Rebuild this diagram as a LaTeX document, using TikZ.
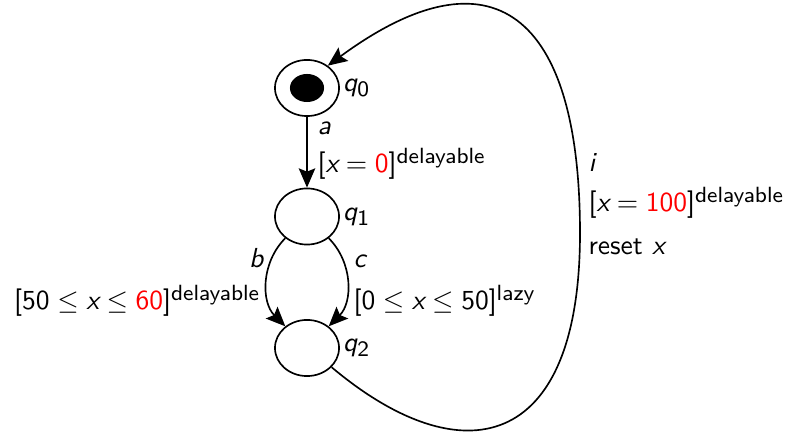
\documentclass[tikz,border=0pt]{standalone}
\usepackage{amsmath}
\renewcommand{\familydefault}{\sfdefault}
\usepackage[italic]{mathastext}
\usetikzlibrary{shapes.geometric,arrows.meta}
\tikzset{
  state/.style={draw, ellipse, line width=0.6pt, inner sep=0pt, minimum width=23.3pt, minimum height=20.4pt},
  trans/.style={line width=0.6pt, -{Stealth[length=7pt,width=6pt,inset=1.2pt]}},
  lbl/.style={inner sep=0pt},
}
\newcommand{\dlay}{^{\text{delayable}}}
\begin{document}
\begin{tikzpicture}[x=0.3636pt,y=0.3636pt]
\useasboundingbox (0,0) rectangle (789,433);
\node[state, label={[inner sep=1pt]right:$q_0$}] (q0) at (307,345) {};
\node[fill, ellipse, inner sep=0pt, minimum width=12.4pt, minimum height=10.2pt] (q0dot) at (q0.center) {};
\node[state, label={[inner sep=1pt]right:$q_1$}] (q1) at (307,216.5) {};
\node[state, label={[inner sep=1pt]right:$q_2$}] (q2) at (307,85) {};
\draw[trans] (q0) -- (q1);
\draw[trans] (q1) to[out=-135,in=135] (q2);
\draw[trans] (q1) to[out=-45,in=45] (q2);
\coordinate (far) at (580,200);
\draw[trans] (q2.-38) .. controls (461,-43) and (580,-20) .. (far)
  .. controls (580,420) and (492,488) .. (q0.47);
\node[lbl, anchor=base west] (la) at (317,298) {$a$};
\node[lbl, anchor=base west] (ga) at (317,260) {$[x = {\color{red}0}]\dlay$};
\node[lbl, anchor=base east] (lb) at (264,165) {$b$};
\node[lbl, anchor=base east] (gb) at (261,123) {$[50 \le x \le {\color{red}60}]\dlay$};
\node[lbl, anchor=base west] (lc) at (353,165) {$c$};
\node[lbl, anchor=base west] (gc) at (353,123) {$[0 \le x \le 50]^{\text{lazy}}$};
\node[lbl, anchor=base west] (li) at (588,261) {$i$};
\node[lbl, anchor=base west] (gi) at (588,221) {$[x = {\color{red}100}]\dlay$};
\node[lbl, anchor=base west] (ri) at (588,178) {reset $x$};
\end{tikzpicture}
\end{document}
